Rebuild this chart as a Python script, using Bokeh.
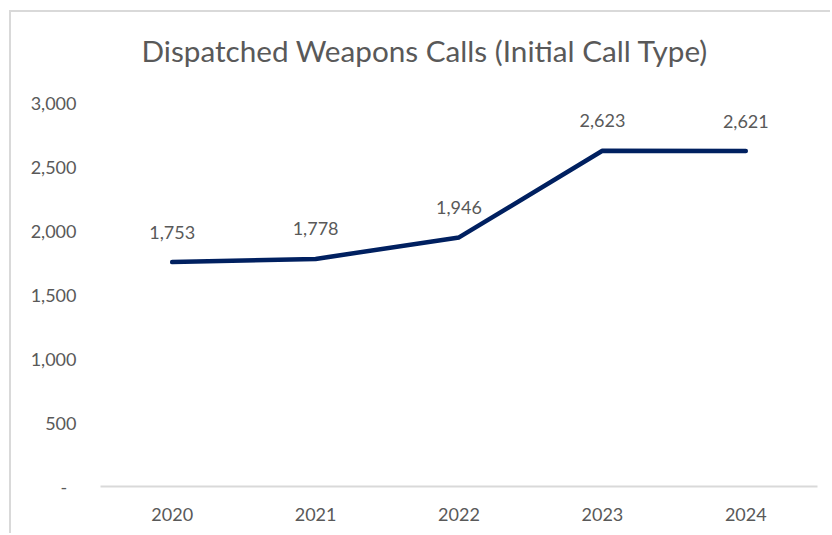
from bokeh.plotting import figure
from bokeh.models import (ColumnDataSource, FactorRange, FixedTicker, NumeralTickFormatter,
                          LabelSet, Range1d)
from bokeh.core.properties import value
from bokeh.embed import file_html
from bokeh.resources import INLINE

years = ["2020", "2021", "2022", "2023", "2024"]
calls = [1753, 1778, 1946, 2623, 2621]
y_ticks = [0, 500, 1000, 1500, 2000, 2500, 3000]
title_text = "Dispatched Weapons Calls (Initial Call Type)"

FONT = "Lato"
GRAY = "#595959"

src = ColumnDataSource(dict(x=years, y=calls, lbl=[f"{v:,}" for v in calls]))

# canvas starts at page (11, 12); the chart-area frame is drawn as a box-shadow
p = figure(width=821, height=523, x_range=FactorRange(factors=years),
           y_range=Range1d(0, 3000), output_backend="svg", toolbar_location=None,
           title=title_text + "\n")
p.styles = {"margin-left": "11px", "margin-top": "12px",
            "box-shadow": "-2px -2px 0 0 #d9d9d9"}
p.min_border_left = 89
p.min_border_right = 15
p.min_border_top = 90
p.min_border_bottom = 49
p.outline_line_color = None
p.background_fill_color = "white"
p.border_fill_color = "white"

p.title.text_font = FONT
p.title.text_font_size = "29.7px"
p.title.text_font_style = "normal"
p.title.text_color = GRAY
p.title.text_line_height = 0.98
p.title.align = "left"
p.title.offset = 41
p.title.standoff = 0

p.line(x="x", y="y", source=src, line_width=4.5, line_color="#002060",
       line_cap="round", line_join="round")

labels = LabelSet(x="x", y="y", text="lbl", source=src, y_offset=30,
                  text_align="center", text_baseline="middle",
                  text_font_size=value("18px"), text_color=value(GRAY),
                  text_font=value(FONT))
p.add_layout(labels)

p.xgrid.visible = False
p.ygrid.visible = False

xa = p.xaxis[0]
xa.axis_line_color = "#d9d9d9"
xa.axis_line_width = 2
xa.major_tick_line_color = None
xa.minor_tick_line_color = None
xa.major_label_standoff = 15
xa.major_label_text_font = FONT
xa.major_label_text_font_size = "18px"
xa.major_label_text_color = GRAY

ya = p.yaxis[0]
ya.axis_line_color = None
ya.major_tick_line_color = None
ya.minor_tick_line_color = None
ya.ticker = FixedTicker(ticks=y_ticks)
ya.formatter = NumeralTickFormatter(format="0,0")
ya.major_label_overrides = {0: "-\u00a0\u00a0"}
ya.major_label_standoff = 18
ya.major_label_text_font = FONT
ya.major_label_text_font_size = "18px"
ya.major_label_text_color = GRAY

open("out.html", "w").write(file_html(p, INLINE))
